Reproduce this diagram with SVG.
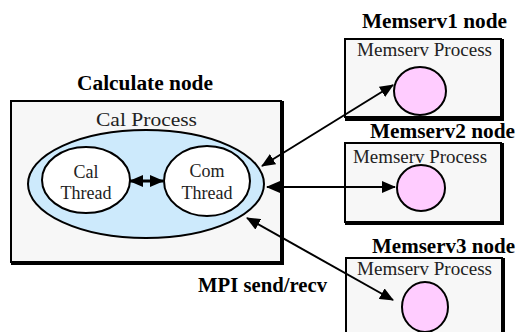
<svg xmlns="http://www.w3.org/2000/svg" width="518" height="332" viewBox="0 0 518 332" font-family="Liberation Serif">
<defs>
<marker id="ah" viewBox="0 0 14 12" refX="13" refY="6" markerWidth="14" markerHeight="12" markerUnits="userSpaceOnUse" orient="auto-start-reverse">
<path d="M0,0 L14,6 L0,12 Z" fill="#000"/>
</marker>
</defs>
<rect width="518" height="332" fill="#fff"/>

<g id="calculate-node">
<text x="77" y="90" font-family="Liberation Serif" font-weight="bold" font-size="20" textLength="136" lengthAdjust="spacingAndGlyphs">Calculate node</text>
<rect x="11" y="101" width="270" height="161" fill="#f7f7f7" stroke="#000" stroke-width="2"/>
<path d="M282,101 V263 H11" fill="none" stroke="#000" stroke-width="4"/>
<text x="96" y="126" font-family="Liberation Serif" font-size="19" fill="#222" textLength="101" lengthAdjust="spacingAndGlyphs">Cal Process</text>
<ellipse cx="146" cy="184" rx="118" ry="54" fill="#cdeafc" stroke="#000" stroke-width="2"/>
<g id="cal-thread">
<ellipse cx="86" cy="180" rx="44" ry="33" fill="#fff" stroke="#000" stroke-width="2"/>
<text x="86" y="178" font-family="Liberation Serif" font-size="18" fill="#222" text-anchor="middle">Cal</text>
<text x="86" y="199" font-family="Liberation Serif" font-size="18" fill="#222" text-anchor="middle">Thread</text>
</g>
<g id="com-thread">
<ellipse cx="207" cy="181" rx="43" ry="35" fill="#fff" stroke="#000" stroke-width="2"/>
<text x="207" y="177" font-family="Liberation Serif" font-size="18" fill="#222" text-anchor="middle">Com</text>
<text x="207" y="199" font-family="Liberation Serif" font-size="18" fill="#222" text-anchor="middle">Thread</text>
</g>
</g>

<g id="memserv1-node">
<text x="362" y="28" font-family="Liberation Serif" font-weight="bold" font-size="20" textLength="145" lengthAdjust="spacingAndGlyphs">Memserv1 node</text>
<rect x="345" y="39" width="156" height="78" fill="#f7f7f7" stroke="#000" stroke-width="2"/>
<path d="M502,39 V119 H345" fill="none" stroke="#000" stroke-width="4"/>
<text x="357" y="56" font-family="Liberation Serif" font-size="19" fill="#222" textLength="135" lengthAdjust="spacingAndGlyphs">Memserv Process</text>
<ellipse cx="420" cy="91" rx="26" ry="24" fill="#ffccff" stroke="#000" stroke-width="2"/>
</g>

<g id="memserv2-node">
<text x="370" y="138" font-family="Liberation Serif" font-weight="bold" font-size="20" textLength="145" lengthAdjust="spacingAndGlyphs">Memserv2 node</text>
<rect x="345" y="143" width="156" height="79" fill="#f7f7f7" stroke="#000" stroke-width="2"/>
<path d="M502,143 V223 H345" fill="none" stroke="#000" stroke-width="4"/>
<text x="353" y="163" font-family="Liberation Serif" font-size="19" fill="#222" textLength="134" lengthAdjust="spacingAndGlyphs">Memserv Process</text>
<ellipse cx="421" cy="188" rx="24" ry="23" fill="#ffccff" stroke="#000" stroke-width="2"/>
</g>

<g id="memserv3-node">
<text x="372" y="253" font-family="Liberation Serif" font-weight="bold" font-size="20" textLength="143" lengthAdjust="spacingAndGlyphs">Memserv3 node</text>
<rect x="346" y="258" width="156" height="90" fill="#f7f7f7" stroke="#000" stroke-width="2"/>
<path d="M503,258 V340" fill="none" stroke="#000" stroke-width="4"/>
<text x="357" y="275" font-family="Liberation Serif" font-size="19" fill="#222" textLength="135" lengthAdjust="spacingAndGlyphs">Memserv Process</text>
<ellipse cx="425" cy="307" rx="23" ry="25" fill="#ffccff" stroke="#000" stroke-width="2"/>
</g>

<g id="connectors" stroke="#000" fill="none">
<line x1="130" y1="181" x2="163" y2="181" stroke-width="3" marker-start="url(#ah)" marker-end="url(#ah)"/>
<line x1="262" y1="166" x2="393" y2="85" stroke-width="2" marker-start="url(#ah)" marker-end="url(#ah)"/>
<line x1="267" y1="187" x2="395" y2="187" stroke-width="2" marker-start="url(#ah)" marker-end="url(#ah)"/>
<line x1="247" y1="218" x2="393" y2="300" stroke-width="2" marker-start="url(#ah)" marker-end="url(#ah)"/>
</g>
<text x="198" y="292" font-family="Liberation Serif" font-weight="bold" font-size="20" textLength="129" lengthAdjust="spacingAndGlyphs">MPI send/recv</text>
</svg>
